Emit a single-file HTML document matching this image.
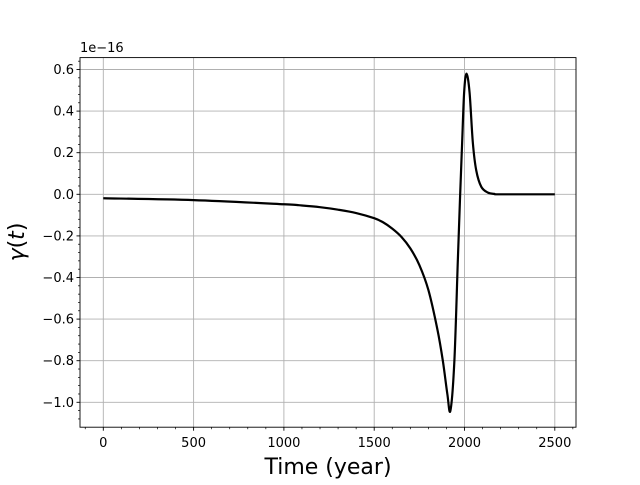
<!DOCTYPE html>
<html><head><meta charset="utf-8"><style>
body{margin:0;background:#fff}
svg text{font-family:"DejaVu Sans","Liberation Sans",sans-serif;fill:#000}
</style></head><body>
<svg id="chart" width="640" height="480" xmlns="http://www.w3.org/2000/svg">
<rect width="640" height="480" fill="#fff"/>
<g id="grid"></g>
<g id="ticks"></g>
<path id="curve" fill="none" stroke="#000" stroke-width="2.2"/>
<rect x="80" y="57.6" width="496" height="369.6" fill="none" stroke="#000" stroke-width="0.9"/>
<text x="80" y="52" font-size="13">1e−16</text>
<text x="328" y="474" font-size="22" text-anchor="middle">Time (year)</text>
<text transform="translate(24,242) rotate(-90)" font-size="22" text-anchor="middle"><tspan font-style="italic">γ</tspan>(<tspan font-style="italic">t</tspan>)</text>
</svg>
<script>
const times=[0,500,1000,1100,1200,1300,1400,1500,1550,1600,1650,1700,1750,1800,1850,1880,1905,1922,1944,1963,1976,1987,1998,2011,2028,2046,2065,2093,2130,2165,2200,2500];
const gammaVals=[-0.019,-0.028,-0.048,-0.054,-0.062,-0.074,-0.09,-0.115,-0.135,-0.165,-0.204,-0.26,-0.34,-0.46,-0.65,-0.80,-0.96,-1.04,-0.8,-0.32,0,0.25,0.49,0.58,0.49,0.25,0.115,0.036,0.008,0.002,0,0];
const xTicks=[0,500,1000,1500,2000,2500];
const yTicks=[-1.0,-0.8,-0.6,-0.4,-0.2,0.0,0.2,0.4,0.6];
const NS="http://www.w3.org/2000/svg";
const L=80,R=576,T=57.6,B=427.2;
const xs=t=>103.3+t*0.1806;
const ys=v=>194.3-v*208;
const grid=document.getElementById('grid'),ticks=document.getElementById('ticks');
function ln(p,x1,y1,x2,y2,c,w){const e=document.createElementNS(NS,'line');e.setAttribute('x1',x1);e.setAttribute('y1',y1);e.setAttribute('x2',x2);e.setAttribute('y2',y2);e.setAttribute('stroke',c);e.setAttribute('stroke-width',w);p.appendChild(e);return e;}
function tx(x,y,s,a){const e=document.createElementNS(NS,'text');e.setAttribute('x',x);e.setAttribute('y',y);e.setAttribute('font-size',13);e.setAttribute('text-anchor',a);e.textContent=s;ticks.appendChild(e);return e;}
xTicks.forEach(t=>{const x=xs(t);
const g=ln(grid,x,T,x,B,'#b0b0b0',0.9);


ln(ticks,x,B,x,B+3.5,'#000',0.9);
const e=tx(x,B+20,String(t),'middle');

});
for(let t=-100;t<=2600;t+=100){if(t%500===0)continue;const x=xs(t);if(x<L||x>R)continue;ln(ticks,x,B,x,B+2,'#000',0.7);}
yTicks.forEach(v=>{const y=ys(v);
const g=ln(grid,L,y,R,y,'#b0b0b0',0.9);


ln(ticks,L-3.5,y,L,y,'#000',0.9);
const e=tx(L-6,y+4.5,(v<0?'−':'')+Math.abs(v).toFixed(1),'end');

});
for(let i=-28;i<=16;i++){const v=i*0.04;if(i%5===0)continue;const y=ys(v);if(y<T||y>B)continue;ln(ticks,L-2,y,L,y,'#000',0.7);}
const P=times.map((t,i)=>[xs(t),ys(gammaVals[i])]);
let d='M'+P[0][0]+','+P[0][1];
for(let i=0;i<P.length-1;i++){const p0=P[Math.max(0,i-1)],p1=P[i],p2=P[i+1],p3=P[Math.min(P.length-1,i+2)];
const c1=[p1[0]+(p2[0]-p0[0])/6,p1[1]+(p2[1]-p0[1])/6],c2=[p2[0]-(p3[0]-p1[0])/6,p2[1]-(p3[1]-p1[1])/6];
d+=' C'+c1[0]+','+c1[1]+' '+c2[0]+','+c2[1]+' '+p2[0]+','+p2[1];}
document.getElementById('curve').setAttribute('d',d);
</script>
</body></html>
